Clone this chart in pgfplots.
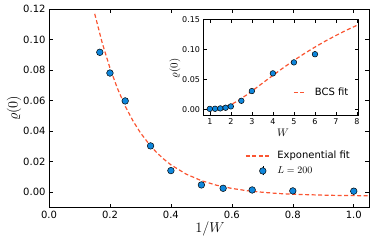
\documentclass[border=0pt]{standalone}
\usepackage{pgfplots}
\pgfplotsset{compat=1.18}
\usepackage{fontspec}
\setmainfont{DejaVu Sans}
\definecolor{mblue}{RGB}{15,135,220}
\definecolor{fitred}{RGB}{250,85,50}
\begin{document}
\begin{tikzpicture}[x=1bp,y=1bp]
\path[use as bounding box] (-49,-34.5) rectangle (325,207.5);
\begin{axis}[
  at={(0bp,0bp)}, anchor=south west,
  scale only axis, width=320bp, height=198.2bp,
  xmin=0, xmax=1.05, ymin=-0.01, ymax=0.12,
  xtick={0,0.2,0.4,0.6,0.8,1.0},
  ytick={0,0.02,0.04,0.06,0.08,0.10,0.12},
  scaled y ticks=false, scaled x ticks=false,
  xticklabel style={/pgf/number format/.cd,fixed,fixed zerofill,precision=1},
  yticklabel style={/pgf/number format/.cd,fixed,fixed zerofill,precision=2},
  /pgf/number format/assume math mode=true,
  tick label style={font=\fontsize{10bp}{12bp}\selectfont},
  tick align=inside, major tick length=4bp, minor tick num=0,
  axis line style={line width=0.8bp},
  every tick/.style={black, line width=0.6bp},
  xlabel={$1/W$}, ylabel={$\varrho(0)$},
  label style={font=\fontsize{14bp}{16bp}\selectfont},
  xlabel style={at={(rel axis cs:0.503,0)}, anchor=center, yshift=-21bp},
  ylabel style={at={(rel axis cs:0,0.5)}, anchor=center, yshift=35bp},
  legend cell align=left,
  legend style={draw=none, fill=none, at={(rel axis cs:0.6125,0.294)}, anchor=north west,
    font=\fontsize{10bp}{12bp}\selectfont, inner sep=0pt, row sep=2bp, column sep=0pt,
    nodes={text height=7.5bp, text depth=2.5bp, inner sep=1.5bp}},
]
\addplot[fitred, line width=1.2bp, dash pattern=on 4bp off 2.5bp,
  legend image code/.code={\path[draw=none,fill=none] (0bp,0bp) -- (30bp,0bp);
    \draw[fitred, line width=1.2bp, dash pattern=on 4bp off 2.5bp] (0bp,0bp) -- (23bp,0bp);}]
  coordinates {
  (0.15,0.1170) (0.175,0.0977) (0.2,0.0815) (0.225,0.0679) (0.25,0.0565)
  (0.275,0.0470) (0.3,0.0390) (0.325,0.0325) (0.35,0.0267) (0.375,0.0220)
  (0.4,0.0180) (0.45,0.0119) (0.5,0.0076) (0.55,0.0046) (0.6,0.0025)
  (0.65,0.0010) (0.7,0.0000) (0.75,-0.0008) (0.8,-0.0013) (0.85,-0.0016)
  (0.9,-0.0019) (0.95,-0.0021) (1.0,-0.0022) (1.05,-0.0023)};
\addlegendentry{Exponential fit}
\addplot[only marks, mark=*, mark size=3.3bp,
  mark options={fill=mblue, draw=black, line width=0.5bp},
  legend image code/.code={\path[draw=none,fill=none] (0bp,0bp) -- (30bp,0bp);
    \draw[black, line width=0.6bp] (17bp,-4.5bp) -- (17bp,4.5bp);
    \draw[black, line width=0.5bp, fill=mblue] (17bp,0bp) circle (3.3bp);}]
  coordinates {
  (0.1667,0.0918) (0.2,0.0782) (0.25,0.0599) (0.3333,0.0304) (0.4,0.0142)
  (0.5,0.0048) (0.5714,0.0026) (0.6667,0.0015) (0.8,0.0009) (1.0,0.0007)};
\addlegendentry{$L=200$}
\end{axis}
\begin{axis}[
  at={(154.5bp,92.2bp)}, anchor=south west,
  scale only axis, width=155.2bp, height=96bp,
  axis background/.style={fill=white},
  xmin=0.7, xmax=8.08, ymin=-0.01, ymax=0.15,
  xtick={1,2,3,4,5,6,7,8},
  ytick={0,0.05,0.10,0.15},
  scaled y ticks=false,
  yticklabel style={/pgf/number format/.cd,fixed,fixed zerofill,precision=2},
  /pgf/number format/assume math mode=true,
  tick label style={font=\fontsize{8bp}{10bp}\selectfont},
  tick align=inside, major tick length=3.5bp, minor tick num=0,
  axis line style={line width=0.8bp},
  every tick/.style={black, line width=0.6bp},
  xlabel={$W$}, ylabel={$\varrho(0)$},
  label style={font=\fontsize{11bp}{13bp}\selectfont},
  xlabel style={at={(rel axis cs:0.512,0)}, anchor=center, yshift=-17.4bp},
  ylabel style={at={(rel axis cs:0,0.4875)}, anchor=center, yshift=28.5bp},
  legend style={draw=none, fill=none, at={(rel axis cs:0.577,0.24)}, anchor=west,
    font=\fontsize{10bp}{12bp}\selectfont, inner sep=0pt, column sep=0pt,
    nodes={inner sep=1.5bp}},
]
\addplot[fitred, line width=1.2bp, dash pattern=on 4bp off 2.5bp,
  legend image code/.code={\path[draw=none,fill=none] (0bp,0bp) -- (19.5bp,0bp);
    \draw[fitred, line width=1.2bp, dash pattern=on 4bp off 2.5bp] (0bp,0bp) -- (12bp,0bp);}]
  coordinates {
  (1.8,0.0044) (2,0.0076) (2.25,0.0125) (2.5,0.0180) (2.75,0.0240) (3,0.0303)
  (3.5,0.0434) (4,0.0565) (4.5,0.0693) (5,0.0815) (5.5,0.0930) (6,0.1037)
  (6.5,0.1138) (7,0.1231) (7.5,0.1319) (8,0.1400) (8.08,0.1413)};
\addlegendentry{BCS fit}
\addplot[only marks, mark=*, mark size=2.8bp,
  mark options={fill=mblue, draw=black, line width=0.5bp}, forget plot]
  coordinates {
  (1,0.0007) (1.25,0.0009) (1.5,0.0015) (1.75,0.0026) (2,0.0048)
  (2.5,0.0142) (3,0.0304) (4,0.0599) (5,0.0782) (6,0.0918)};
\end{axis}
\end{tikzpicture}
\end{document}
